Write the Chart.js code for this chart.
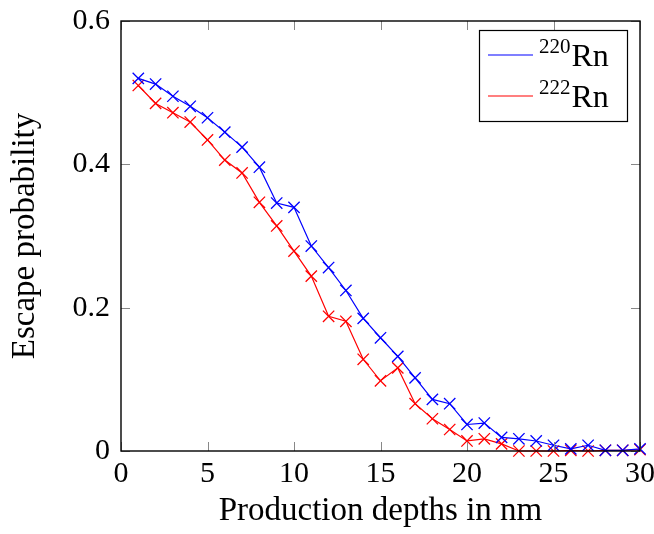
<!DOCTYPE html>
<html>
<head>
<meta charset="utf-8">
<script src="https://cdn.jsdelivr.net/npm/chart.js@4"></script>
<style>
  html, body { margin: 0; padding: 0; background: #fff; }
  canvas { display: block; }
</style>
</head>
<body>
<canvas id="escapeChart" width="654" height="534"></canvas>
<script>
// production depth (nm)
const depths = [1, 2, 3, 4, 5, 6, 7, 8, 9, 10, 11, 12, 13, 14, 15, 16, 17, 18, 19, 20, 21, 22, 23, 24, 25, 26, 27, 28, 29, 30];
// escape probability, 220Rn
const rn220 = [0.520, 0.512, 0.495, 0.481, 0.465, 0.445, 0.424, 0.396, 0.346, 0.340,
               0.286, 0.256, 0.224, 0.185, 0.158, 0.132, 0.102, 0.072, 0.066, 0.037,
               0.039, 0.019, 0.017, 0.014, 0.008, 0.003, 0.008, 0.001, 0.001, 0.003];
// escape probability, 222Rn
const rn222 = [0.510, 0.485, 0.472, 0.459, 0.434, 0.406, 0.388, 0.347, 0.314, 0.279,
               0.244, 0.188, 0.181, 0.128, 0.098, 0.116, 0.066, 0.045, 0.030, 0.014,
               0.017, 0.010, 0.000, 0.000, 0.000, 0.001, 0.000, 0.001, 0.001, 0.002];
const xTicks = [0, 5, 10, 15, 20, 25, 30];
const yTicks = [0, 0.2, 0.4, 0.6];

const serif = '"Liberation Serif", "DejaVu Serif", serif';

function pts(ys) {
    return depths.map((x, i) => ({ x: x, y: ys[i] }));
}

// frame, inward ticks and legend
const framePlugin = {
    id: 'frame',
    afterDraw(chart) {
        const c = chart.ctx;
        const a = chart.chartArea;
        const sx = chart.scales.x, sy = chart.scales.y;
        c.save();
        c.strokeStyle = '#888';
        c.lineWidth = 1;
        xTicks.forEach(v => {
            const px = Math.round(sx.getPixelForValue(v)) + 0.5;
            c.beginPath();
            c.moveTo(px, a.bottom); c.lineTo(px, a.bottom - 9);
            c.moveTo(px, a.top); c.lineTo(px, a.top + 9);
            c.stroke();
        });
        yTicks.forEach(v => {
            const py = Math.round(sy.getPixelForValue(v)) + 0.5;
            c.beginPath();
            c.moveTo(a.left, py); c.lineTo(a.left + 9, py);
            c.moveTo(a.right, py); c.lineTo(a.right - 9, py);
            c.stroke();
        });
        c.strokeStyle = '#000';
        c.lineWidth = 1.4;
        c.strokeRect(a.left, a.top, a.right - a.left, a.bottom - a.top);

        // legend
        const lx = 479, ly = 30, lw = 148, lh = 91;
        c.fillStyle = '#fff';
        c.fillRect(lx, ly, lw, lh);
        c.lineWidth = 1.2;
        c.strokeRect(lx + 0.5, ly + 0.5, lw, lh);
        const items = [['220', 'blue', 55], ['222', 'red', 96]];
        items.forEach(([iso, col, y]) => {
            c.strokeStyle = col;
            c.lineWidth = 1.2;
            c.beginPath();
            c.moveTo(488, y); c.lineTo(533, y);
            c.stroke();
            c.fillStyle = '#000';
            c.textBaseline = 'alphabetic';
            c.textAlign = 'left';
            c.font = '21px ' + serif;
            c.fillText(iso, 539, y - 2);
            const w = c.measureText(iso).width;
            c.font = '32px ' + serif;
            c.fillText('Rn', 539 + w + 1, y + 11);
        });
        c.restore();
    }
};

const ctx = document.getElementById('escapeChart');

new Chart(ctx, {
    type: 'line',
    data: {
        datasets: [
            {
                label: '220Rn',
                data: pts(rn220),
                borderColor: 'blue',
                pointBorderColor: 'blue',
                backgroundColor: 'blue',
                borderWidth: 1.2,
                pointStyle: 'crossRot',
                pointRadius: 8,
                pointBorderWidth: 1.3,
                tension: 0,
                clip: 10
            },
            {
                label: '222Rn',
                data: pts(rn222),
                borderColor: 'red',
                pointBorderColor: 'red',
                backgroundColor: 'red',
                borderWidth: 1.2,
                pointStyle: 'crossRot',
                pointRadius: 8,
                pointBorderWidth: 1.3,
                tension: 0,
                clip: 10
            }
        ]
    },
    options: {
        responsive: false,
        animation: false,
        layout: { padding: { top: 21, right: 14, left: 0, bottom: 0 } },
        plugins: {
            legend: { display: false },
            tooltip: { enabled: false }
        },
        scales: {
            x: {
                type: 'linear',
                min: 0,
                max: 30,
                afterBuildTicks: s => { s.ticks = xTicks.map(v => ({ value: v })); },
                ticks: { color: '#000', font: { family: serif, size: 30 }, padding: 5, maxRotation: 0 },
                grid: { drawOnChartArea: false, drawTicks: false },
                border: { display: false },
                title: {
                    display: true,
                    text: 'Production depths in nm',
                    color: '#000',
                    font: { family: serif, size: 33 },
                    padding: { top: 0, bottom: 3 }
                },
                afterFit: s => {
                    s.height = 83;
                    s.paddingLeft = 0; s.paddingRight = 0;
                }
            },
            y: {
                min: 0,
                max: 0.6,
                afterBuildTicks: s => { s.ticks = yTicks.map(v => ({ value: v })); },
                ticks: {
                    color: '#000',
                    font: { family: serif, size: 30 },
                    padding: 11,
                    callback: v => v === 0 ? '0' : v.toFixed(1)
                },
                grid: { drawOnChartArea: false, drawTicks: false },
                border: { display: false },
                title: {
                    display: true,
                    text: 'Escape probability',
                    color: '#000',
                    font: { family: serif, size: 33 },
                    padding: { top: 6, bottom: 0 }
                },
                afterFit: s => {
                    s.width = 121;
                    s.paddingTop = 0; s.paddingBottom = 0;
                }
            }
        }
    },
    plugins: [framePlugin]
});
</script>
</body>
</html>
